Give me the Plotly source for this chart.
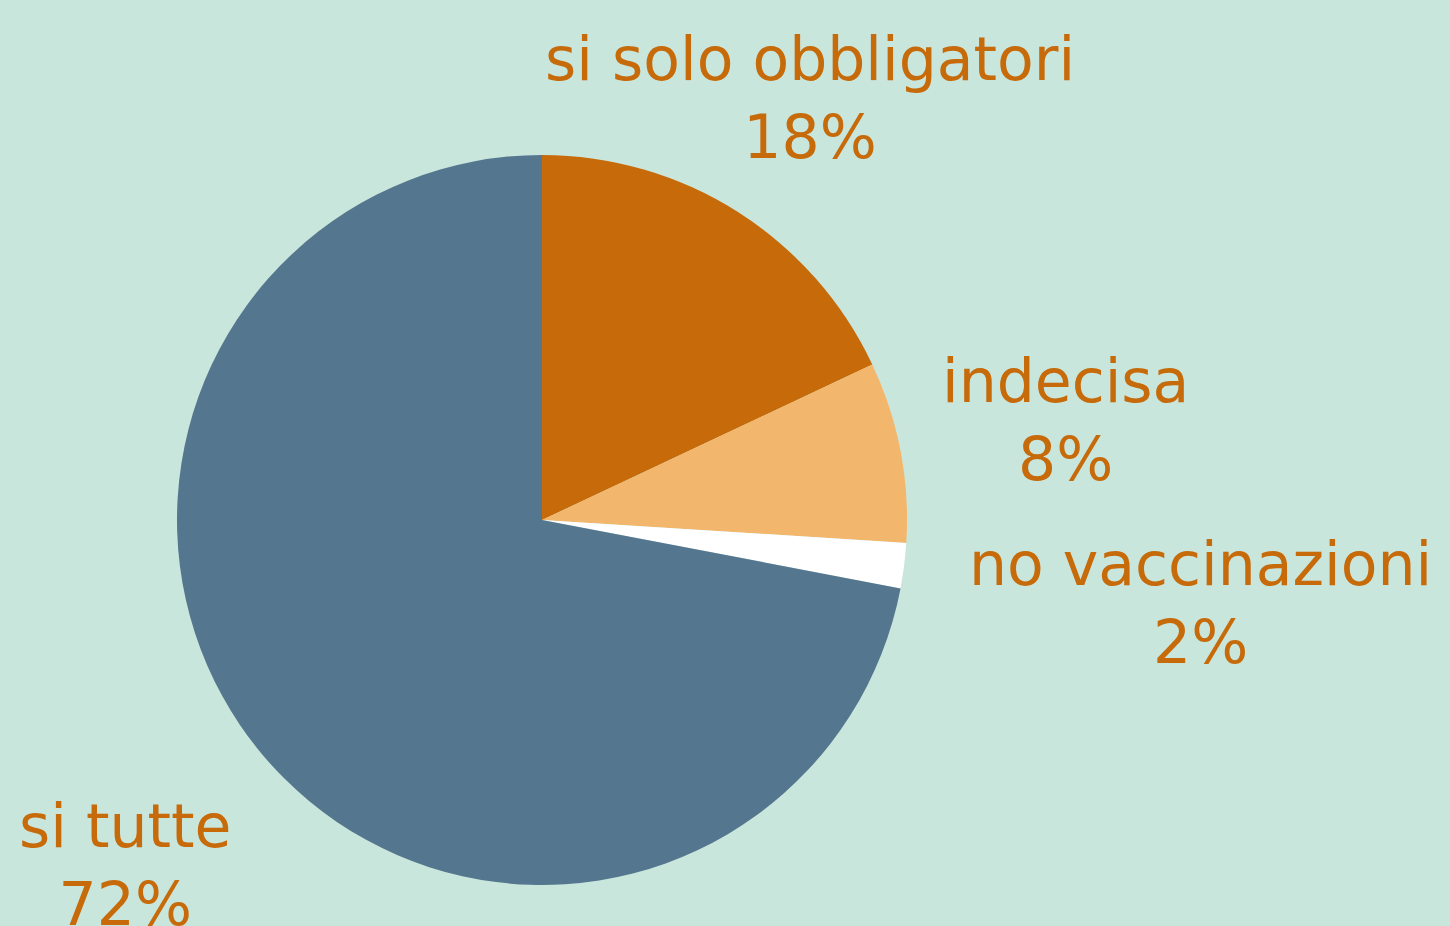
import math
import plotly.graph_objects as go

labels = ["si solo obbligatori", "indecisa", "no vaccinazioni", "si tutte"]
values = [18, 8, 2, 72]
colors = ["#C66A0A", "#F2B66C", "#FFFFFF", "#55768F"]

W, H = 1450, 926
cx, cy, r = 542, 520, 365
# distance (px) of each label's centre from the pie centre, along its slice's mid-angle
label_dist = [500, 533, 664, 541]

fig = go.Figure(go.Pie(
    labels=labels,
    values=values,
    sort=False,
    direction="clockwise",
    rotation=0,
    marker=dict(colors=colors, line=dict(width=0)),
    textinfo="none",
    hoverinfo="label+percent",
    showlegend=False,
    domain=dict(x=[(cx - r) / W, (cx + r) / W], y=[(H - cy - r) / H, (H - cy + r) / H]),
))

total = sum(values)
cum = 0
for lab, v, d in zip(labels, values, label_dist):
    mid = (cum + v / 2) / total * 2 * math.pi
    cum += v
    px = cx + d * math.sin(mid)
    py = cy - d * math.cos(mid)
    fig.add_annotation(
        x=px / W, y=1 - py / H, xref="paper", yref="paper",
        xanchor="center", yanchor="middle", align="center",
        text=f"{lab}<br>{round(v / total * 100)}%",
        showarrow=False,
        font=dict(family="DejaVu Sans", size=60, color="#C66A0A"),
    )

fig.update_layout(
    width=W, height=H,
    margin=dict(l=0, r=0, t=0, b=0),
    paper_bgcolor="#C9E6DC",
    plot_bgcolor="#C9E6DC",
)

fig.write_html("out.html")
